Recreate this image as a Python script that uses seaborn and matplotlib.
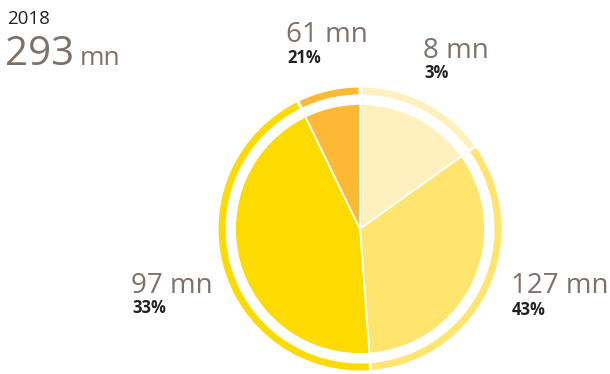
import matplotlib
matplotlib.use("Agg")
import matplotlib.pyplot as plt
import seaborn as sns

sns.set_theme(style="white")
plt.rcParams["font.family"] = ["Open Sans", "DejaVu Sans"]

# Data
year = "2018"
total_mn = 293
slice_share = [15.1, 33.7, 44.0, 7.2]          # pie wedges, clockwise from 12 o'clock
label_mn = [8, 127, 97, 61]                     # region totals, mn
label_pct = [3, 43, 33, 21]                     # region shares, %
slice_colors = sns.color_palette(["#FEF1BD", "#FFE46E", "#FDDB00", "#FDB933"])

W, H = 610, 374
fig = plt.figure(figsize=(W / 100, H / 100), dpi=100)
ax = fig.add_axes([0, 0, 1, 1])
ax.set_xlim(0, W)
ax.set_ylim(0, H)
ax.set_aspect("equal")
ax.axis("off")

cx, cy = 360, H - 229

# Solid pie
ax.pie(slice_share, colors=slice_colors, startangle=90, counterclock=False,
       radius=125, center=(cx, cy),
       wedgeprops=dict(edgecolor="white", linewidth=1.3))
# Thin outer ring
ax.pie(slice_share, colors=slice_colors, startangle=90, counterclock=False,
       radius=143, center=(cx, cy),
       wedgeprops=dict(width=10, edgecolor="white", linewidth=2.2))
ax.set_xlim(0, W)
ax.set_ylim(0, H)

value_col = "#7F7068"
pct_col = "#222222"

def px(y):
    return H - y

# Headline
ax.text(7, px(24), year, fontsize=13.5, color="#222222", ha="left", va="baseline")
ax.text(5, px(65), f"{total_mn}", fontsize=29, color=value_col, ha="left", va="baseline")
ax.text(80, px(65), "mn", fontsize=19, color=value_col, ha="left", va="baseline")

# Region labels: (x, value baseline, pct baseline)
label_pos = [(423, 58, 78), (511, 293, 315), (131, 293, 313), (286, 42, 63)]
for (x, yv, yp), mn, pct in zip(label_pos, label_mn, label_pct):
    ax.text(x, px(yv), f"{mn} mn", fontsize=20, color=value_col, ha="left", va="baseline")
    ax.text(x + 1, px(yp), f"{pct}%", fontsize=12, fontweight="bold", color=pct_col,
            ha="left", va="baseline")

fig.savefig("out.png", dpi=100)
